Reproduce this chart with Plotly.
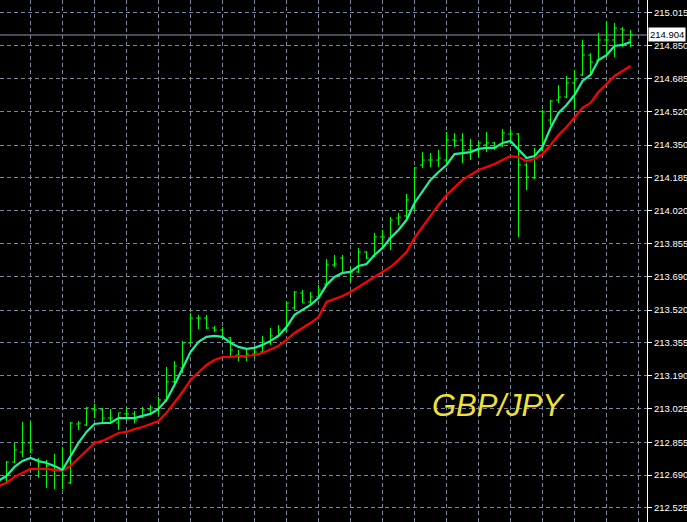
import plotly.graph_objects as go

# ---- data ----
bar_index = list(range(79))

open_ = [212.676, 212.756, 212.806, 212.852, 212.766, 212.756, 212.736, 212.716, 212.651, 212.947,
         212.942, 213.018, 213.018, 212.977, 212.952, 212.998, 212.998, 212.982, 213.018, 213.018,
         213.068, 213.159, 213.229, 213.355, 213.480, 213.480, 213.430, 213.420, 213.380, 213.294,
         213.284, 213.299, 213.309, 213.360, 213.390, 213.420, 213.531, 213.606, 213.561, 213.586,
         213.651, 213.747, 213.782, 213.712, 213.712, 213.812, 213.792, 213.888, 213.883, 213.983,
         213.994, 214.034, 214.250, 214.275, 214.275, 214.275, 214.376, 214.376, 214.326, 214.326,
         214.351, 214.361, 214.346, 214.406, 214.406, 214.250, 214.185, 214.326, 214.476, 214.577,
         214.592, 214.663, 214.703, 214.803, 214.778, 214.879, 214.879, 214.934, 214.879]
high = [212.761, 212.852, 212.957, 212.957, 212.776, 212.766, 212.796, 212.832, 212.957, 212.962,
        213.033, 213.048, 213.028, 213.023, 213.003, 213.028, 213.013, 213.033, 213.043, 213.083,
        213.234, 213.264, 213.365, 213.506, 213.496, 213.496, 213.440, 213.435, 213.385, 213.320,
        213.325, 213.330, 213.390, 213.430, 213.445, 213.561, 213.616, 213.621, 213.611, 213.646,
        213.777, 213.797, 213.797, 213.737, 213.833, 213.817, 213.908, 213.923, 213.988, 214.009,
        214.104, 214.240, 214.315, 214.310, 214.326, 214.416, 214.411, 214.411, 214.381, 214.366,
        214.416, 214.366, 214.431, 214.431, 214.411, 214.260, 214.336, 214.527, 214.577, 214.652,
        214.698, 214.728, 214.879, 214.813, 214.914, 214.974, 214.964, 214.944, 214.929]
low = [212.645, 212.751, 212.781, 212.801, 212.676, 212.625, 212.620, 212.620, 212.645, 212.917,
       212.937, 212.977, 212.957, 212.952, 212.917, 212.967, 212.952, 212.977, 213.003, 212.993,
       213.058, 213.143, 213.204, 213.350, 213.425, 213.425, 213.410, 213.370, 213.289, 213.264,
       213.264, 213.279, 213.304, 213.345, 213.385, 213.410, 213.521, 213.556, 213.551, 213.581,
       213.646, 213.737, 213.702, 213.662, 213.707, 213.777, 213.787, 213.838, 213.823, 213.948,
       213.983, 214.024, 214.235, 214.240, 214.240, 214.250, 214.341, 214.260, 214.275, 214.290,
       214.315, 214.326, 214.341, 214.361, 213.888, 214.124, 214.180, 214.321, 214.451, 214.562,
       214.587, 214.527, 214.698, 214.703, 214.773, 214.813, 214.793, 214.844, 214.844]
close = [212.756, 212.817, 212.852, 212.817, 212.756, 212.736, 212.716, 212.686, 212.952, 212.952,
         213.028, 213.018, 212.977, 212.977, 213.003, 212.998, 212.967, 213.018, 213.028, 213.068,
         213.159, 213.239, 213.355, 213.480, 213.480, 213.430, 213.420, 213.380, 213.320, 213.284,
         213.299, 213.309, 213.360, 213.390, 213.420, 213.556, 213.611, 213.556, 213.586, 213.621,
         213.747, 213.752, 213.707, 213.707, 213.812, 213.782, 213.888, 213.888, 213.973, 213.988,
         214.074, 214.235, 214.275, 214.275, 214.285, 214.376, 214.371, 214.326, 214.326, 214.361,
         214.361, 214.336, 214.411, 214.406, 214.250, 214.190, 214.300, 214.517, 214.572, 214.592,
         214.663, 214.678, 214.803, 214.768, 214.879, 214.879, 214.939, 214.929, 214.904]

ma_index = list(range(-1, 79))
ma_fast = [212.661,
           212.686, 212.731, 212.761, 212.776, 212.761, 212.751, 212.736, 212.716, 212.781, 212.852,
           212.907, 212.947, 212.952, 212.952, 212.977, 212.977, 212.977, 212.988, 212.998, 213.023,
           213.068, 213.143, 213.229, 213.309, 213.360, 213.385, 213.390, 213.385, 213.355, 213.335,
           213.325, 213.330, 213.345, 213.365, 213.390, 213.435, 213.496, 213.521, 213.546, 213.581,
           213.646, 213.687, 213.707, 213.712, 213.742, 213.752, 213.797, 213.833, 213.883, 213.923,
           213.973, 214.059, 214.114, 214.175, 214.215, 214.250, 214.305, 214.310, 214.315, 214.331,
           214.336, 214.336, 214.361, 214.371, 214.326, 214.285, 214.295, 214.341, 214.436, 214.512,
           214.552, 214.602, 214.673, 214.703, 214.778, 214.803, 214.849, 214.854, 214.869]
ma_slow = [212.635,
           212.651, 212.681, 212.701, 212.721, 212.721, 212.721, 212.716, 212.711, 212.736, 212.776,
           212.817, 212.852, 212.862, 212.882, 212.902, 212.907, 212.922, 212.932, 212.947, 212.962,
           213.003, 213.053, 213.108, 213.169, 213.209, 213.244, 213.269, 213.284, 213.284, 213.289,
           213.289, 213.294, 213.304, 213.320, 213.340, 213.370, 213.405, 213.430, 213.455, 213.485,
           213.561, 213.576, 213.591, 213.611, 213.636, 213.662, 213.687, 213.712, 213.737, 213.772,
           213.812, 213.883, 213.938, 213.999, 214.049, 214.099, 214.139, 214.175, 214.200, 214.225,
           214.240, 214.255, 214.275, 214.295, 214.290, 214.270, 214.280, 214.305, 214.351, 214.401,
           214.441, 214.491, 214.537, 214.562, 214.617, 214.657, 214.698, 214.723, 214.748]

y_ticks = [212.525, 212.690, 212.855, 213.025, 213.190, 213.355, 213.520, 213.690,
           213.855, 214.020, 214.185, 214.350, 214.520, 214.685, 214.850, 215.015]
y_tick_text = ["212.525", "212.690", "212.855", "213.025", "213.190", "213.355", "213.520", "213.690",
               "213.855", "214.020", "214.185", "214.350", "214.520", "214.685", "214.850", "215.015"]
last_price = 214.904
symbol = "GBP/JPY"

# ---- figure ----
GRID = "#7A8699"
fig = go.Figure()

fig.add_trace(go.Ohlc(
    x=bar_index, open=open_, high=high, low=low, close=close,
    increasing=dict(line=dict(color="#00FF00", width=1)),
    decreasing=dict(line=dict(color="#00FF00", width=1)),
    tickwidth=0.3, hoverinfo="skip", showlegend=False,
))
fig.add_trace(go.Scatter(
    x=ma_index, y=ma_slow, mode="lines",
    line=dict(color="#FF0000", width=2.2), hoverinfo="skip", showlegend=False,
))
fig.add_trace(go.Scatter(
    x=ma_index, y=ma_fast, mode="lines",
    line=dict(color="#1EF2A0", width=2.2), hoverinfo="skip", showlegend=False,
))

fig.add_shape(type="line", xref="paper", x0=0, x1=1, yref="y", y0=last_price, y1=last_price,
              line=dict(color="#8C98AA", width=1), layer="below")

fig.add_annotation(xref="paper", x=1, xanchor="left", xshift=1, yref="y", y=last_price,
                   yanchor="middle", text=f"{last_price:.3f}", showarrow=False,
                   bgcolor="#FFFFFF", borderpad=1,
                   font=dict(family="Liberation Sans", size=9.5, color="#000000"))

fig.add_annotation(xref="paper", x=0.77, yref="paper", y=0.224, text=f"<i>{symbol}</i>",
                   showarrow=False, xanchor="center", yanchor="middle",
                   font=dict(family="Liberation Sans", size=31, color="#F2E03A"))

fig.update_layout(
    width=687, height=522,
    margin=dict(l=0, r=40, t=0, b=0),
    paper_bgcolor="#000000", plot_bgcolor="#000000",
    showlegend=False,
    xaxis=dict(range=[-0.81, 80.06], tick0=3, dtick=4, showticklabels=False,
               showgrid=True, gridcolor=GRID, griddash="4px,3px", gridwidth=1,
               zeroline=False, showline=False, ticks="", rangeslider=dict(visible=False),
               fixedrange=True),
    yaxis=dict(range=[212.454, 215.080], side="right", tickvals=y_ticks, ticktext=y_tick_text,
               showgrid=True, gridcolor=GRID, griddash="4px,3px", gridwidth=1,
               zeroline=False, showline=True, linecolor="#FFFFFF", linewidth=1,
               ticks="outside", ticklen=4, tickcolor="#FFFFFF",
               tickfont=dict(family="Liberation Sans", size=9.5, color="#FFFFFF"),
               fixedrange=True),
)

fig.write_html("out.html", config={"displayModeBar": False},
               post_script="document.body.style.margin='0';document.body.style.background='#000';")
